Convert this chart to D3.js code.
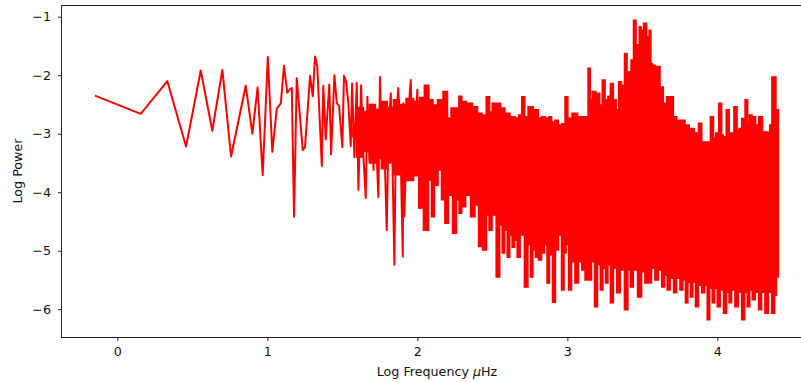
<!DOCTYPE html>
<html>
<head>
<meta charset="utf-8">
<script src="https://cdn.jsdelivr.net/npm/d3@7"></script>
<style>
  body { margin: 0; background: #fff; }
  svg { display: block; }
  text { font-family: "DejaVu Sans", sans-serif; }
</style>
</head>
<body>
<div id="chart"></div>
<script>
const xTicks = [0, 1, 2, 3, 4];
const yTicks = [-1, -2, -3, -4, -5, -6];

// [log frequency, log power] where single lines can still be told apart
const lowFreqPoints = [
  [-0.149, -2.35], [0.156, -2.66], [0.333, -2.10], [0.458, -3.22], [0.556, -1.92],
  [0.633, -2.95], [0.700, -1.91], [0.758, -3.39], [0.856, -2.18], [0.900, -3.00],
  [0.935, -2.21], [0.969, -3.71], [1.003, -1.69], [1.033, -3.31], [1.063, -2.57],
  [1.090, -2.48], [1.111, -1.84], [1.133, -2.30], [1.151, -2.24], [1.163, -2.22],
  [1.178, -4.42], [1.196, -2.05], [1.236, -3.28], [1.251, -3.23], [1.285, -2.01],
  [1.303, -2.36], [1.318, -1.68], [1.333, -1.85], [1.363, -3.55], [1.373, -2.18],
  [1.389, -3.10], [1.413, -2.16], [1.425, -3.35], [1.447, -2.00], [1.463, -2.48],
  [1.478, -2.52], [1.500, -3.23], [1.511, -2.01], [1.525, -2.11], [1.540, -2.48],
  [1.556, -3.21], [1.565, -2.14], [1.580, -3.40], [1.596, -2.13], [1.607, -3.96],
  [1.625, -2.17], [1.638, -3.28], [1.656, -4.10], [1.667, -2.37], [1.681, -3.45],
  [1.696, -2.50], [1.708, -3.62], [1.718, -2.65], [1.740, -4.08], [1.751, -2.03],
  [1.763, -3.28], [1.773, -2.54], [1.796, -4.65], [1.808, -2.94], [1.823, -2.31],
  [1.835, -3.62], [1.847, -5.24], [1.858, -2.77], [1.873, -2.22], [1.888, -3.28],
  [1.903, -5.10], [1.907, -2.48], [1.913, -4.42], [1.931, -2.94], [1.956, -2.08],
  [1.971, -3.62], [2.000, -2.25], [2.018, -4.28]
];

// upper edge of the dense band (peaks included)
const bandTop = [
  [1.57, -2.90], [1.62, -2.55], [1.66, -2.62], [1.70, -2.50], [1.74, -2.58],
  [1.78, -2.45], [1.82, -2.55], [1.86, -2.42], [1.90, -2.50], [1.95, -2.40],
  [2.00, -2.45], [2.030, -2.38],
  [2.063, -2.17], [2.091, -2.42], [2.118, -2.51], [2.151, -2.42], [2.191, -2.28],
  [2.211, -2.73], [2.238, -2.56], [2.265, -2.56], [2.289, -2.36], [2.305, -2.45],
  [2.351, -2.48], [2.385, -2.54], [2.418, -2.65], [2.445, -2.68], [2.473, -2.37],
  [2.491, -2.63], [2.507, -2.48], [2.538, -2.48], [2.571, -2.56], [2.596, -2.65],
  [2.638, -2.71], [2.665, -2.73], [2.685, -2.68], [2.707, -2.37], [2.725, -2.71],
  [2.751, -2.54], [2.796, -2.59], [2.818, -2.73], [2.838, -2.71], [2.871, -2.73],
  [2.885, -2.71], [2.905, -2.80], [2.929, -2.77], [2.951, -2.85], [2.973, -2.83],
  [2.996, -2.37], [3.011, -2.73], [3.051, -2.65], [3.085, -2.71], [3.129, -2.71],
  [3.147, -1.88], [3.158, -2.42], [3.173, -2.28], [3.207, -2.31], [3.225, -2.51],
  [3.240, -2.08], [3.263, -2.42], [3.278, -2.36], [3.296, -2.14], [3.318, -2.42],
  [3.333, -2.59], [3.351, -2.11], [3.371, -2.17], [3.391, -1.63], [3.405, -1.95],
  [3.418, -1.94], [3.431, -1.74], [3.451, -1.06], [3.465, -1.48], [3.473, -1.54],
  [3.485, -1.17], [3.498, -1.23], [3.518, -1.11], [3.540, -1.34], [3.551, -1.23],
  [3.563, -1.80], [3.573, -1.83], [3.596, -1.85], [3.607, -1.85], [3.629, -2.20],
  [3.651, -2.48], [3.673, -2.37], [3.696, -2.37], [3.718, -2.71], [3.740, -2.77],
  [3.773, -2.77], [3.796, -2.85], [3.829, -2.91], [3.863, -2.99], [3.885, -2.82],
  [3.907, -3.14], [3.940, -3.14], [3.967, -2.71], [3.981, -3.07], [3.996, -2.99],
  [4.023, -2.48], [4.035, -3.02], [4.045, -3.05], [4.073, -2.59], [4.085, -3.00],
  [4.096, -2.99], [4.125, -2.54], [4.138, -2.94], [4.151, -2.91], [4.173, -2.74],
  [4.196, -2.42], [4.208, -2.85], [4.218, -2.68], [4.245, -2.71], [4.265, -2.85],
  [4.285, -2.71], [4.318, -2.97], [4.340, -2.97], [4.358, -2.85], [4.369, -2.03],
  [4.385, -2.03], [4.396, -2.59], [4.407, -2.59]
];

// lower edge of the dense band (dips included)
const bandBottom = [
  [1.57, -3.05], [1.62, -3.40], [1.66, -3.30], [1.70, -3.50], [1.74, -3.42],
  [1.78, -3.60], [1.82, -3.50], [1.86, -3.70], [1.90, -3.62], [1.95, -3.80],
  [2.00, -3.72],
  [2.018, -4.27], [2.063, -4.65], [2.085, -3.79], [2.103, -4.42], [2.125, -3.88],
  [2.151, -3.62], [2.171, -4.13], [2.196, -4.53], [2.218, -4.05], [2.251, -4.70],
  [2.271, -4.13], [2.285, -4.36], [2.307, -4.25], [2.338, -4.05], [2.371, -4.42],
  [2.398, -4.22], [2.418, -4.93], [2.451, -4.99], [2.471, -4.39], [2.485, -4.65],
  [2.511, -4.39], [2.540, -5.45], [2.558, -4.56], [2.573, -5.04], [2.591, -4.65],
  [2.607, -5.11], [2.625, -4.73], [2.638, -4.94], [2.658, -4.82], [2.673, -5.11],
  [2.698, -4.73], [2.729, -5.62], [2.745, -4.90], [2.763, -5.45], [2.778, -4.99],
  [2.796, -5.11], [2.818, -5.16], [2.838, -5.04], [2.858, -4.90], [2.871, -5.55],
  [2.891, -5.07], [2.911, -5.88], [2.931, -4.99], [2.951, -4.73], [2.971, -5.67],
  [2.985, -5.04], [2.998, -4.90], [3.018, -5.67], [3.038, -5.19], [3.063, -5.55],
  [3.085, -5.19], [3.107, -5.33], [3.129, -5.50], [3.151, -5.50], [3.171, -5.19],
  [3.191, -5.96], [3.211, -5.24], [3.229, -5.67], [3.245, -5.30], [3.263, -5.55],
  [3.278, -5.24], [3.296, -5.89], [3.318, -5.30], [3.340, -5.72], [3.365, -5.33],
  [3.396, -6.01], [3.411, -5.33], [3.429, -5.62], [3.451, -5.33], [3.485, -5.79],
  [3.505, -5.36], [3.529, -5.55], [3.551, -5.55], [3.571, -5.30], [3.596, -5.50],
  [3.618, -5.33], [3.640, -5.62], [3.658, -5.42], [3.673, -5.67], [3.698, -5.47],
  [3.718, -5.72], [3.738, -5.47], [3.763, -5.67], [3.778, -5.50], [3.796, -5.89],
  [3.811, -5.54], [3.829, -5.79], [3.845, -5.54], [3.863, -5.96], [3.885, -5.59],
  [3.907, -5.72], [3.925, -5.59], [3.940, -6.18], [3.958, -5.64], [3.973, -5.89],
  [3.991, -5.64], [4.007, -5.96], [4.031, -5.67], [4.051, -6.07], [4.071, -5.71],
  [4.085, -5.89], [4.105, -5.67], [4.129, -5.96], [4.151, -5.71], [4.173, -6.18],
  [4.191, -5.71], [4.207, -5.96], [4.225, -5.67], [4.240, -5.84], [4.265, -5.71],
  [4.285, -6.01], [4.305, -5.71], [4.329, -6.07], [4.351, -5.71], [4.373, -6.07],
  [4.391, -5.76], [4.396, -5.45], [4.407, -5.45]
];

const width = 801, height = 382;
const marginLeft = 62, marginTop = 5, plotW = 750, plotH = 332;
const red = "#ff0000";

const svg = d3.select("#chart").append("svg")
  .attr("width", width)
  .attr("height", height);

const x = d3.scaleLinear().domain([-0.369, 4.631]).range([marginLeft, marginLeft + plotW]);
const y = d3.scaleLinear().domain([-6.475, -0.80]).range([marginTop + plotH, marginTop]);

svg.append("clipPath").attr("id", "plot")
  .append("rect")
  .attr("x", marginLeft).attr("y", marginTop)
  .attr("width", plotW).attr("height", plotH);

const line = d3.line()
  .x(d => x(d[0]))
  .y(d => y(d[1]));

// the band edges read as stacks of vertical strokes, so step between samples
const stepLine = d3.line()
  .x(d => x(d[0]))
  .y(d => y(d[1]))
  .curve(d3.curveStep);

const plot = svg.append("g").attr("clip-path", "url(#plot)");

// dense part: top edge out, bottom edge back
plot.append("path")
  .attr("d", stepLine(bandTop.concat(bandBottom.slice().reverse())) + "Z")
  .attr("fill", red)
  .attr("stroke", red)
  .attr("stroke-width", 1.5)
  .attr("stroke-linejoin", "miter");

plot.append("path")
  .attr("d", line(lowFreqPoints))
  .attr("fill", "none")
  .attr("stroke", red)
  .attr("stroke-width", 2)
  .attr("stroke-linejoin", "round");

const fmt = d => d < 0 ? "\u2212" + Math.abs(d) : String(d);

const xAxis = svg.append("g")
  .attr("transform", `translate(0, ${marginTop + plotH})`)
  .call(d3.axisBottom(x).tickValues(xTicks).tickSize(4).tickPadding(6).tickFormat(fmt));

const yAxis = svg.append("g")
  .attr("transform", `translate(${marginLeft}, 0)`)
  .call(d3.axisLeft(y).tickValues(yTicks).tickSize(4).tickPadding(7).tickFormat(fmt));

[xAxis, yAxis].forEach(g => {
  g.select(".domain").remove();
  g.selectAll(".tick line").attr("stroke", "#222");
  g.selectAll(".tick text")
    .attr("fill", "#111")
    .style("font-family", "'DejaVu Sans', sans-serif")
    .style("font-size", "12.7px");
});

svg.append("rect")
  .attr("x", marginLeft - 0.5).attr("y", marginTop + 0.5)
  .attr("width", plotW).attr("height", plotH)
  .attr("fill", "none")
  .attr("stroke", "#222")
  .attr("stroke-width", 1);

const xLabel = svg.append("text")
  .attr("x", marginLeft + plotW / 2)
  .attr("y", 376)
  .attr("text-anchor", "middle")
  .attr("fill", "#111")
  .style("font-size", "12.7px");
xLabel.append("tspan").text("Log Frequency ");
xLabel.append("tspan").attr("font-style", "italic").text("\u03bc");
xLabel.append("tspan").text("Hz");

svg.append("text")
  .attr("transform", `translate(22, ${marginTop + plotH / 2}) rotate(-90)`)
  .attr("text-anchor", "middle")
  .attr("fill", "#111")
  .style("font-size", "12.7px")
  .text("Log Power");
</script>
</body>
</html>
